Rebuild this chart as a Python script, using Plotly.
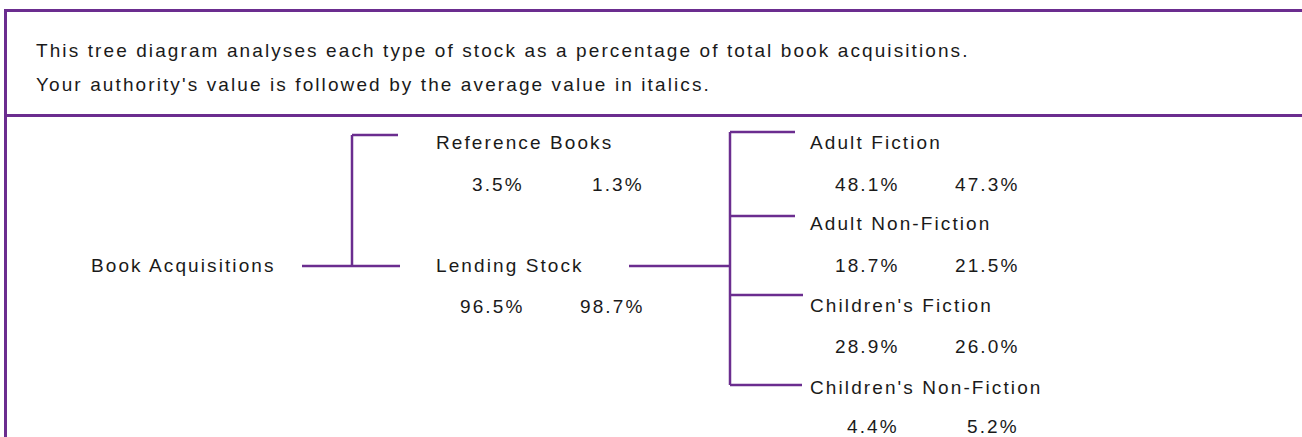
import plotly.graph_objects as go

# ---------------- data ----------------
header_lines = [
    "This tree diagram analyses each type of stock as a percentage of total book acquisitions.",
    "Your authority's value is followed by the average value in italics.",
]
root_label = "Book Acquisitions"
level1_labels = ["Reference Books", "Lending Stock"]
level1_authority = [3.5, 96.5]
level1_average = [1.3, 98.7]
level2_labels = ["Adult Fiction", "Adult Non-Fiction", "Children's Fiction", "Children's Non-Fiction"]
level2_authority = [48.1, 18.7, 28.9, 4.4]
level2_average = [47.3, 21.5, 26.0, 5.2]

# ---------------- layout constants (pixels) ----------------
W, H = 1302, 437
PURPLE = "#6b2d8f"
FONT = "Liberation Sans, Arial, sans-serif"
FS = 19
LS = "letter-spacing:2.1px"
TXT = "#1a1a1a"

header_x = 34
header_y = [50, 84]

root_x, root_y = 89, 265
l1_text_x = 434
l1_label_y = [142, 265]
l1_value_y = [184, 306]
l1_col_right = [526, 646]
l1_arm_y = [135, 266]
l1_arm_end = [398, 400]
b1_x = 352
root_conn = (302, 352)

l2_text_x = 808
l2_label_y = [142, 223, 305, 387]
l2_value_y = [184, 265, 346, 426]
l2_col_right = [901, 1021]
l2_arm_y = [132, 216, 295, 385]
l2_arm_end = [795, 795, 803, 802]
b2_x = 730
l1_conn = (629, 730)

fig = go.Figure()
shapes = []
ann = []


def line(x0, y0, x1, y1, w=2.5):
    shapes.append(dict(type="line", xref="x", yref="y", x0=x0, y0=y0, x1=x1, y1=y1,
                       line=dict(color=PURPLE, width=w)))


def text(x, y, s, anchor="left"):
    ann.append(dict(x=x, y=y, xref="x", yref="y", text=f'<span style="{LS}">{s}</span>',
                    showarrow=False, xanchor=anchor, yanchor="middle",
                    font=dict(family=FONT, size=FS, color=TXT)))


# frame
line(4, 10.5, W, 10.5, 3)
line(5.5, 9, 5.5, H, 3)
line(4, 115.5, W, 115.5, 3)

# header
for i, s in enumerate(header_lines):
    text(header_x, header_y[i], s)

# root
text(root_x, root_y, root_label)
line(root_conn[0], 266, root_conn[1], 266)
line(b1_x, l1_arm_y[0], b1_x, l1_arm_y[-1])
for i, lab in enumerate(level1_labels):
    line(b1_x, l1_arm_y[i], l1_arm_end[i], l1_arm_y[i])
    text(l1_text_x, l1_label_y[i], lab)
    text(l1_col_right[0], l1_value_y[i], f"{level1_authority[i]:.1f}%", "right")
    text(l1_col_right[1], l1_value_y[i], f"{level1_average[i]:.1f}%", "right")

# level 2
line(l1_conn[0], 266, l1_conn[1], 266)
line(b2_x, l2_arm_y[0], b2_x, l2_arm_y[-1])
for i, lab in enumerate(level2_labels):
    line(b2_x, l2_arm_y[i], l2_arm_end[i], l2_arm_y[i])
    text(l2_text_x, l2_label_y[i], lab)
    text(l2_col_right[0], l2_value_y[i], f"{level2_authority[i]:.1f}%", "right")
    text(l2_col_right[1], l2_value_y[i], f"{level2_average[i]:.1f}%", "right")

fig.update_layout(
    width=W, height=H, margin=dict(l=0, r=0, t=0, b=0),
    paper_bgcolor="white", plot_bgcolor="white",
    xaxis=dict(range=[0, W], visible=False, fixedrange=True),
    yaxis=dict(range=[H, 0], visible=False, fixedrange=True),
    shapes=shapes, annotations=ann, showlegend=False,
)

fig.write_html("out.html", config={"displayModeBar": False, "staticPlot": True},
               post_script="document.body.style.margin='0';document.body.style.overflow='hidden';")
